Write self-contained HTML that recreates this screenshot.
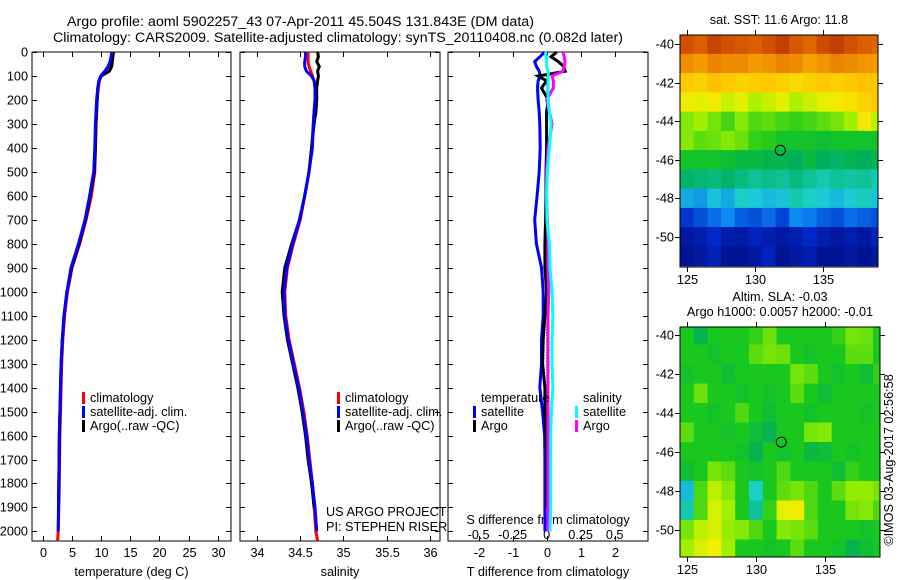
<!DOCTYPE html>
<html><head><meta charset="utf-8"><style>
html,body{margin:0;padding:0;background:#fff;}
svg{display:block;font-family:"Liberation Sans",sans-serif;}
</style></head><body>
<svg id="fig" width="900" height="580" viewBox="0 0 900 580">
<text x="67" y="26" font-size="14.2" textLength="467" lengthAdjust="spacingAndGlyphs">Argo profile: aoml 5902257_43 07-Apr-2011 45.504S 131.843E (DM data)</text>
<text x="53" y="42" font-size="14.2" textLength="570" lengthAdjust="spacingAndGlyphs">Climatology: CARS2009. Satellite-adjusted climatology: synTS_20110408.nc (0.082d later)</text>
<g id="g"></g>
</svg>
<script>
const depths=[0,20,40,60,80,100,120,150,200,250,300,400,500,600,700,800,900,1000,1100,1200,1300,1400,1500,1600,1700,1800,1900,2000,2040];
const tClim=[11.9,11.8,11.6,11.3,10.7,10.0,9.7,9.5,9.3,9.2,9.1,9.0,8.9,8.3,7.4,6.3,5.0,4.2,3.7,3.4,3.2,3.1,3.0,2.9,2.85,2.8,2.7,2.6,2.5];
const tSat=[11.8,11.7,11.5,11.2,10.6,9.9,9.6,9.4,9.2,9.1,9.0,8.9,8.7,8.0,7.2,6.1,4.8,4.1,3.6,3.3,3.1,3.0,2.9,2.8,2.75,2.7,2.65,2.6];
const tArgo=[12.1,12.0,11.9,11.8,11.4,10.0,9.6,9.4,9.3,9.2,9.1,9.0,8.8,8.1,7.3,6.2,4.9,4.1,3.6,3.3,3.1,3.0,2.9,2.8,2.75,2.7,2.65];
const sClim=[34.59,34.59,34.59,34.6,34.62,34.64,34.66,34.67,34.67,34.66,34.65,34.63,34.6,34.55,34.5,34.42,34.35,34.32,34.33,34.37,34.43,34.49,34.54,34.58,34.61,34.64,34.66,34.68,34.7];
const sSat=[34.56,34.56,34.55,34.55,34.57,34.63,34.66,34.67,34.67,34.66,34.65,34.64,34.6,34.55,34.49,34.41,34.34,34.31,34.32,34.36,34.42,34.48,34.53,34.57,34.6,34.64,34.67,34.69];
const sArgo=[34.70,34.71,34.69,34.72,34.70,34.71,34.70,34.69,34.69,34.68,34.66,34.63,34.6,34.55,34.49,34.4,34.32,34.29,34.31,34.35,34.41,34.47,34.52,34.56,34.59,34.63,34.66];
const dTSat=[-0.05,-0.2,-0.35,-0.3,-0.22,-0.19,-0.25,-0.27,-0.25,-0.22,-0.2,-0.19,-0.22,-0.28,-0.35,-0.3,-0.15,-0.1,-0.1,-0.15,-0.15,-0.2,-0.12,-0.06,-0.05,-0.05,-0.05,-0.05];
const dTArgo=[0.3,0.13,0.34,0.5,0.55,-0.25,0.0,-0.15,0.05,0.0,0.0,0.0,-0.02,-0.02,-0.03,-0.05,-0.05,0.0,-0.05,-0.1,-0.12,-0.05,-0.05,-0.02,0.0,0.0,0.0];
const dSSat=[-0.01,0,0,0,0.01,0.013,0.01,0.01,0.01,0.02,0.033,0.02,0.005,0.0,0.002,0.02,0.025,0.04,0.045,0.04,0.04,0.045,0.035,0.03,0.03,0.03,0.03,0.025];
const dSArgo=[0.12,0.13,0.135,0.13,0.12,0.04,0.05,0.05,0,0.02,0.04,0.01,0.0,0.0,0.005,0.01,0.01,0.015,0.01,0.01,0.01,0.01,0.01,0.01,0.01,0.01,0.01,0.01];
const depthTicks=[0,100,200,300,400,500,600,700,800,900,1000,1100,1200,1300,1400,1500,1600,1700,1800,1900,2000];
const tTicks=[0,5,10,15,20,25,30];
const sTicks=[34,34.5,35,35.5,36];
const dTTicks=[-2,-1,0,1,2];
const dSTicks=[-0.5,-0.25,0,0.25,0.5];
const dSLabels=["-0.5","-0.25","0","0.25","0.5"];
const lonTicks=[125,130,135];
const latTicks=[-40,-42,-44,-46,-48,-50];
const gridLons=[125,126,127,128,129,130,131,132,133,134,135,136,137,138,139];
const gridLats=[-40,-41,-42,-43,-44,-45,-46,-47,-48,-49,-50,-51];
const sstGrid=[
[0.9,0.88,0.92,0.9,0.89,0.88,0.9,0.93,0.89,0.87,0.91,0.93,0.9,0.88,0.87],
[0.82,0.8,0.83,0.82,0.82,0.8,0.81,0.83,0.82,0.79,0.81,0.83,0.82,0.81,0.8],
[0.74,0.72,0.75,0.74,0.72,0.73,0.74,0.72,0.7,0.72,0.74,0.72,0.74,0.75,0.74],
[0.67,0.65,0.67,0.63,0.65,0.61,0.63,0.65,0.61,0.63,0.65,0.67,0.69,0.72,0.74],
[0.58,0.6,0.57,0.53,0.58,0.54,0.55,0.53,0.52,0.53,0.55,0.57,0.6,0.68,0.62],
[0.58,0.55,0.56,0.58,0.56,0.52,0.51,0.49,0.49,0.49,0.48,0.49,0.49,0.49,0.49],
[0.49,0.49,0.49,0.48,0.47,0.47,0.46,0.46,0.45,0.47,0.45,0.44,0.46,0.45,0.46],
[0.44,0.43,0.42,0.44,0.42,0.4,0.41,0.4,0.42,0.4,0.38,0.4,0.39,0.4,0.38],
[0.3,0.28,0.33,0.3,0.36,0.34,0.32,0.33,0.38,0.36,0.34,0.32,0.34,0.37,0.33],
[0.14,0.18,0.22,0.26,0.2,0.18,0.22,0.16,0.26,0.24,0.2,0.18,0.22,0.2,0.18],
[0.06,0.08,0.12,0.08,0.06,0.1,0.08,0.06,0.08,0.12,0.08,0.06,0.08,0.06,0.1],
[0.04,0.06,0.09,0.04,0.04,0.06,0.1,0.04,0.06,0.08,0.04,0.04,0.06,0.04,0.06]];
const slaGrid=[
[.5,.46,.5,.5,.5,.52,.56,.5,.5,.5,.5,.52,.57,.56,.5],
[.5,.5,.49,.5,.5,.55,.57,.56,.5,.49,.5,.5,.55,.55,.5],
[.49,.5,.5,.48,.5,.5,.5,.5,.57,.55,.5,.49,.5,.48,.52],
[.5,.56,.5,.5,.49,.5,.49,.5,.55,.5,.48,.5,.5,.5,.5],
[.5,.5,.49,.5,.54,.5,.48,.5,.5,.49,.5,.5,.5,.49,.5],
[.55,.5,.5,.49,.5,.48,.46,.5,.5,.57,.58,.5,.5,.5,.5],
[.5,.5,.5,.5,.49,.46,.5,.49,.5,.47,.48,.5,.49,.5,.5],
[.48,.5,.57,.55,.5,.49,.5,.54,.5,.5,.5,.48,.52,.5,.5],
[.32,.54,.62,.58,.5,.36,.5,.55,.57,.54,.5,.55,.59,.59,.57],
[.38,.54,.64,.6,.5,.4,.52,.65,.67,.54,.5,.5,.57,.58,.54],
[.57,.62,.64,.59,.58,.54,.5,.58,.57,.55,.5,.5,.5,.49,.5],
[.6,.64,.66,.6,.5,.5,.49,.5,.55,.5,.5,.49,.46,.48,.5]];
const argoLon=131.843, argoLat=-45.504;

const NS="http://www.w3.org/2000/svg";
const G=document.getElementById('g');
const FS=12.7;
function el(tag,attrs,parent){const e=document.createElementNS(NS,tag);for(const k in attrs)e.setAttribute(k,attrs[k]);(parent||G).appendChild(e);return e;}
function txt(x,y,s,size,anchor,parent){const t=el('text',{x:x,y:y,'font-size':size||FS,'text-anchor':anchor||'middle'},parent);t.textContent=s;return t;}
const Y0=52,Y1=541;
const yD=d=>Y0+(d/2040)*(Y1-Y0);
function lin(d0,d1,r0,r1){return v=>r0+(v-d0)/(d1-d0)*(r1-r0);}

function panel(name,x0,x1,xs,ticks,labels,xlabel,showDepthLabels){
  const g=el('g',{});
  
  
  const r=el('rect',{x:x0,y:Y0,width:x1-x0,height:Y1-Y0,fill:'none',stroke:'#000','stroke-width':1},g);
  
  
  depthTicks.forEach(d=>{const y=Math.round(yD(d))+0.5;
    el('line',{x1:x0,x2:x0+5,y1:y,y2:y,stroke:'#000'},g);
    el('line',{x1:x1-5,x2:x1,y1:y,y2:y,stroke:'#000'},g);
    if(showDepthLabels){const t=txt(x0-4,y+4,String(d),FS,'end',g);
      
      }
  });
  ticks.forEach((v,i)=>{const x=Math.round(xs(v))+0.5;
    el('line',{x1:x,x2:x,y1:Y0,y2:Y0+5,stroke:'#000'},g);
    el('line',{x1:x,x2:x,y1:Y1-5,y2:Y1,stroke:'#000'},g);
    if(labels){const t=txt(x,557,labels[i],FS,'middle',g);
      
      }
  });
  const xl=txt((x0+x1)/2,576,xlabel,FS,'middle',g);
  
  
  return g;
}
function series(g,xs,vals,color,name,w){
  const pts=vals.map((v,i)=>xs(v).toFixed(1)+','+yD(depths[i]).toFixed(1)).join(' ');
  const p=el('polyline',{points:pts,fill:'none',stroke:color,'stroke-width':w||3,'stroke-linejoin':'miter'},g);
  
  
}
function legendRow(g,x,y,color,label){
  if(color){const b=el('rect',{x:x,y:y-10,width:3,height:12,fill:color},g);
    
    }
  const t=txt(x+8,y,label,FS,'start',g);
  
  
}

const xT=lin(-1.9,32.3,32,231);
const p1=panel('temperature-panel',32,231,xT,tTicks,tTicks.map(String),'temperature (deg C)',true);
series(p1,xT,tClim,'#ff0000','temp-climatology-line');
series(p1,xT,tArgo,'#000000','temp-argo-line');
series(p1,xT,tSat,'#0000ff','temp-satellite-line');
legendRow(p1,82,402,'#ff0000','climatology');
legendRow(p1,82,416,'#0000ff','satellite-adj. clim.');
legendRow(p1,82,430,'#000000','Argo(..raw -QC)');

const xS=lin(33.8,36.12,240,440);
const p2=panel('salinity-panel',240,440,xS,sTicks,['34','34.5','35','35.5','36'],'salinity',false);
series(p2,xS,sClim,'#ff0000','sal-climatology-line');
series(p2,xS,sArgo,'#000000','sal-argo-line');
series(p2,xS,sSat,'#0000ff','sal-satellite-line');
legendRow(p2,337,402,'#ff0000','climatology');
legendRow(p2,337,416,'#0000ff','satellite-adj. clim.');
legendRow(p2,337,430,'#000000','Argo(..raw -QC)');
let t=txt(326,516,'US ARGO PROJECT',FS,'start',p2);


t=txt(326,531,'PI: STEPHEN RISER',FS,'start',p2);



const xDT=lin(-2.9,2.98,448,648);
const xDS=v=>xDT(v*4);
const p3=panel('difference-panel',448,648,xDT,dTTicks,dTTicks.map(String),'T difference from climatology',false);
dSTicks.forEach((v,i)=>{const tt=txt(xDS(v),539,dSLabels[i],FS,'middle',p3);
  
  });
t=txt(548,524,'S difference from climatology',FS,'middle',p3);


for(let d=100;d<=1500;d+=12){el('rect',{x:xDT(0)-0.5,y:yD(d),width:1.2,height:1.2,fill:'#000'},p3);}
series(p3,xDT,dTSat,'#0000ff','t-diff-satellite-line');
series(p3,xDT,dTArgo,'#000000','t-diff-argo-line');
series(p3,xDS,dSArgo,'#ff00ff','s-diff-argo-line');
series(p3,xDS,dSSat,'#00ffff','s-diff-satellite-line');
legendRow(p3,473,402,null,'temperature');
legendRow(p3,473,416,'#0000ff','satellite');
legendRow(p3,473,430,'#000000','Argo');
legendRow(p3,575,402,null,'salinity');
legendRow(p3,575,416,'#00ffff','satellite');
legendRow(p3,575,430,'#ff00ff','Argo');

const stops=[[0,[0,10,120]],[0.12,[0,40,200]],[0.25,[10,130,240]],[0.35,[30,210,210]],[0.45,[0,175,90]],[0.5,[25,200,30]],[0.6,[160,240,0]],[0.66,[240,240,0]],[0.74,[255,200,0]],[0.82,[240,140,0]],[0.9,[210,80,0]],[1,[160,20,0]]];
function cmap(v){for(let i=1;i<stops.length;i++){if(v<=stops[i][0]){const a=stops[i-1],b=stops[i];const f=(v-a[0])/(b[0]-a[0]);
  const c=a[1].map((x,k)=>Math.round(x+(b[1][k]-x)*f));return 'rgb('+c.join(',')+')';}}return 'rgb(160,20,0)';}

function map(name,x0,x1,y0,y1,latTop,latBot,grid,t1){
  const g=el('g',{});
  
  
  const lonX=lin(124.5,139.0,x0,x1), latY=lin(latTop,latBot,y0,y1);
  const cid=name+'-clip';
  const cp=el('clipPath',{id:cid},g);el('rect',{x:x0,y:y0,width:x1-x0,height:y1-y0},cp);
  const cg=el('g',{'clip-path':'url(#'+cid+')'},g);
  grid.forEach((row,r)=>row.forEach((v,c)=>{
    const xa=lonX(gridLons[c]-0.5),xb=lonX(gridLons[c]+0.5),ya=latY(gridLats[r]+0.5),yb=latY(gridLats[r]-0.5);
    const cell=el('rect',{x:xa.toFixed(1),y:ya.toFixed(1),width:(xb-xa+0.6).toFixed(1),height:(yb-ya+0.6).toFixed(1),fill:cmap(v)},cg);
    
    
  }));
  const fr=el('rect',{x:x0,y:y0,width:x1-x0,height:y1-y0,fill:'none',stroke:'#000'},g);
  
  
  lonTicks.forEach(l=>{const x=Math.round(lonX(l))+0.5;
    el('line',{x1:x,x2:x,y1:y0-5,y2:y0,stroke:'#000'},g);
    el('line',{x1:x,x2:x,y1:y1,y2:y1+5,stroke:'#000'},g);
    const tt=txt(x,y1+17,String(l),FS,'middle',g);
    
    });
  latTicks.forEach(l=>{const y=Math.round(latY(l))+0.5;
    el('line',{x1:x0-5,x2:x0,y1:y,y2:y,stroke:'#000'},g);
    el('line',{x1:x1,x2:x1+5,y1:y,y2:y,stroke:'#000'},g);
    const tt=txt(x0-6,y+4,String(l),FS,'end',g);
    
    });
  const m=el('circle',{cx:lonX(argoLon),cy:latY(argoLat),r:5,fill:'none',stroke:'#000','stroke-width':1},g);
  
  
  t1.forEach(s=>{const tt=txt((x0+x1)/2,s[1],s[0],FS,'middle',g);
    
    });
}
map('sst-map',680,878,35,267,-39.52,-51.57,sstGrid,[['sat. SST: 11.6  Argo: 11.8',24]]);
map('sla-map',680,880,327,557,-39.6,-51.4,slaGrid,[['Altim. SLA: -0.03',301],['Argo h1000: 0.0057 h2000: -0.01',316]]);
t=txt(0,0,'©IMOS 03-Aug-2017 02:56:58',FS,'middle');
t.setAttribute('transform','translate(893,460) rotate(-90)');


</script>
</body></html>
